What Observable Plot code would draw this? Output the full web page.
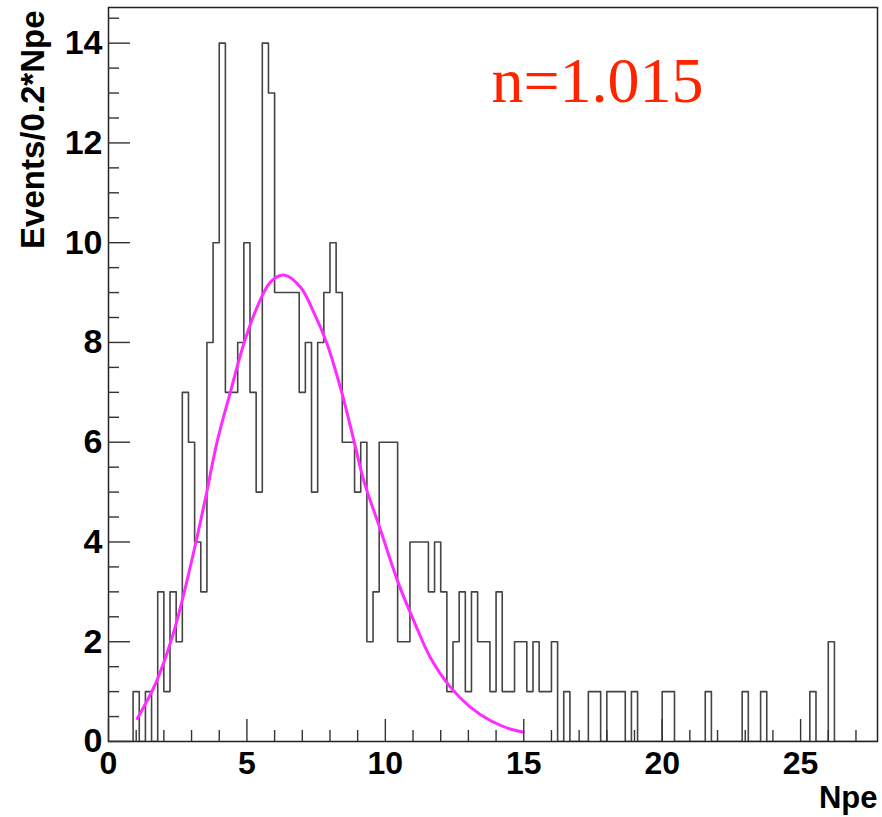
<!DOCTYPE html>
<html><head><meta charset="utf-8">
<script src="https://cdn.jsdelivr.net/npm/d3@7"></script>
<script src="https://cdn.jsdelivr.net/npm/@observablehq/plot@0.6"></script>
<style>
body{margin:0;background:#fff;}
#chart{width:882px;height:817px;}
</style></head><body><div id="chart"></div>
<script>
// ---- data ----
const binWidth = 2 / 9;            // bin spacing measured on the picture (Npe)
const counts = [
  0,0,0,0,1,0,1,0,3,1,
  3,2,7,6,4,3,8,10,14,7,
  7,8,10,7,5,14,13,9,9,9,
  9,7,8,5,8,9,10,9,6,6,
  5,6,2,3,6,6,6,2,2,4,
  4,4,3,4,3,1,2,3,1,3,
  2,2,1,3,1,1,2,2,1,2,
  1,1,2,0,1,0,0,0,1,1,
  0,1,1,1,0,1,0,0,0,0,
  1,1,0,0,0,0,0,1,0,0,
  0,0,0,1,0,0,1,0,0,0,
  0,0,0,0,1,0,0,2,0,0,
  0,0,0,0,0
];
const fitX = [1.04,1.70,2.30,2.72,3.20,3.56,3.92,4.40,4.89,5.37,5.85,6.33,6.93,7.41,7.89,8.44,8.86,9.22,9.82,10.48,11.02,11.62,12.35,13.07,13.79,14.51,14.97];
const fitY = [0.46,1.16,2.09,2.96,4.10,5.03,6.00,7.00,7.98,8.71,9.21,9.35,9.11,8.61,7.98,6.97,6.04,5.23,4.25,3.16,2.43,1.69,1.09,0.69,0.42,0.25,0.19];
const xMajorTicks = [0,5,10,15,20,25];
const xMinorTicks = [1,2,3,4,6,7,8,9,11,12,13,14,16,17,18,19,21,22,23,24,26,27];
const yMajorTicks = [0,2,4,6,8,10,12,14];
const yMinorTicks = [0.5,1,1.5,2.5,3,3.5,4.5,5,5.5,6.5,7,7.5,8.5,9,9.5,10.5,11,11.5,12.5,13,13.5,14.5];
const xTitle = "Npe";
const yTitle = "Events/0.2*Npe";
const fitLabel = "n=1.015";

// ---- tables for the marks ----
const histPoints = counts.map((c, i) => ({x: i * binWidth, y: c}));
histPoints.push({x: counts.length * binWidth, y: counts[counts.length - 1]});
const fitPoints = fitX.map((x, i) => ({x, y: fitY[i]}));

const sans = "'Liberation Sans', Arial, Helvetica, sans-serif";
const axisStroke = "#333";
const intFmt = d => String(d);

const chart = Plot.plot({
  width: 882,
  height: 817,
  marginTop: 7,
  marginRight: 5,
  marginBottom: 76,
  marginLeft: 108,
  style: {background: "#fff", fontFamily: sans, overflow: "visible"},
  x: {domain: [0, counts.length * binWidth]},
  y: {domain: [0, 14.715]},
  marks: [
    Plot.line(histPoints, {x: "x", y: "y", curve: "step-after", stroke: "#444", strokeWidth: 1.6, clip: true}),
    Plot.line(fitPoints, {x: "x", y: "y", curve: "catmull-rom", stroke: "#ff2bff", strokeWidth: 3}),
    Plot.frame({stroke: "#222", strokeWidth: 1.5}),
    // ticks drawn inward
    Plot.axisY(yMajorTicks, {tickSize: -22, tickFormat: () => "", label: null, stroke: axisStroke, strokeWidth: 1.4}),
    Plot.axisY(yMinorTicks, {tickSize: -11, tickFormat: () => "", label: null, stroke: axisStroke, strokeWidth: 1.4}),
    Plot.axisX(xMajorTicks, {tickSize: -22, tickFormat: () => "", label: null, stroke: axisStroke, strokeWidth: 1.4}),
    Plot.axisX(xMinorTicks, {tickSize: -11, tickFormat: () => "", label: null, stroke: axisStroke, strokeWidth: 1.4}),
    // tick labels
    Plot.axisY(yMajorTicks, {tickSize: 0, tickPadding: 6, tickFormat: intFmt, label: null, fontSize: 34, fontWeight: "bold", fill: "#000"}),
    Plot.axisX(xMajorTicks, {tickSize: 0, tickPadding: 10, tickFormat: intFmt, label: null, fontSize: 32, fontWeight: "bold", fill: "#000"}),
    // titles
    Plot.text([xTitle], {frameAnchor: "bottom-right", dx: 0, dy: 66, textAnchor: "end", lineAnchor: "bottom", fontSize: 31, fontWeight: "bold", fill: "#000"}),
    Plot.text([yTitle], {frameAnchor: "top-left", dx: -75, dy: 3, rotate: -90, textAnchor: "end", lineAnchor: "middle", fontSize: 33, fontWeight: "bold", fill: "#000"}),
    Plot.text([fitLabel], {frameAnchor: "top-left", dx: 383, dy: 94, textAnchor: "start", lineAnchor: "bottom", fontSize: 64, fontFamily: "'Liberation Serif', 'Times New Roman', serif", fill: "#ff2400"})
  ]
});
document.getElementById("chart").appendChild(chart);
</script>
</body></html>
